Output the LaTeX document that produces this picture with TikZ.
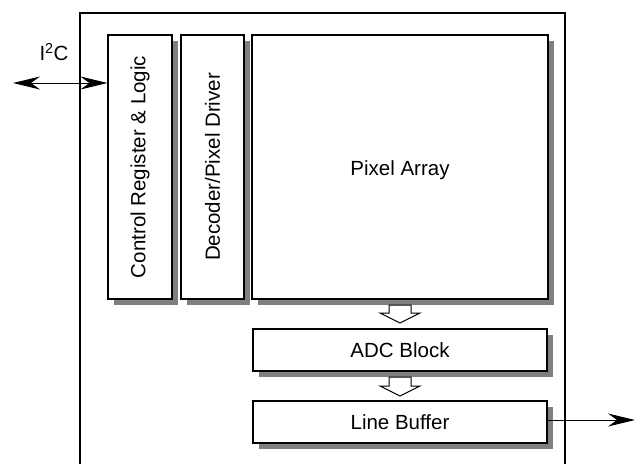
\documentclass[tikz,border=0pt]{standalone}
\usepackage{fontspec}
\setmainfont{Liberation Sans}
\usetikzlibrary{arrows.meta,calc}
\tikzset{
  lbl/.style={font=\fontsize{20.5}{24}\selectfont,inner sep=0pt},
  blk/.style={draw=black,line width=1.1pt,fill=white,inner sep=0pt,lbl},
  sig/.style={line width=1pt,-{Stealth[length=27pt,width=13pt,inset=9pt]}},
  hollow/.style={draw=black,line width=1pt,fill=white},
}
\begin{document}
\begin{tikzpicture}[x=1pt,y=-1pt]
\useasboundingbox (0,0) rectangle (642,464);
% outer chip outline (open at the bottom)
\draw[line width=2.6pt] (80,464) -- (80,13) -- (565,13) -- (565,464);
% shadows
\foreach \a/\b/\c/\d in {108/35/172/299, 181/35/244/299, 252/35/548/299, 253/329/547/371, 253/401/547/443}{
  \fill[black!50] (\a+6,\b+6) rectangle (\c+6,\d+6);
}
% blocks
\node[blk,minimum width=64pt,minimum height=264pt] (ctrl) at (140,167) {};
\node[lbl,rotate=90] (ctrlt) at (ctrl.center) {Control Register \& Logic};
\node[blk,minimum width=63pt,minimum height=264pt] (dec) at (212.5,167) {};
\node[lbl,rotate=90] (dect) at (dec.center) {Decoder/Pixel Driver};
\node[blk,minimum width=296pt,minimum height=264pt] (pix) at (400,167) {};
\node[lbl] (pixt) at (400,170) {Pixel Array};
\node[blk,minimum width=294pt,minimum height=42pt] (adc) at (400,350) {ADC Block};
\node[blk,minimum width=294pt,minimum height=42pt] (lb) at (400,422) {Line Buffer};
% hollow arrows
\draw[hollow] (389,305) -- (411,305) -- (411,313) -- (420,313) -- (400,323) -- (380,313) -- (389,313) -- cycle;
\draw[hollow] (389,377) -- (411,377) -- (411,386) -- (420,386) -- (400,396) -- (380,386) -- (389,386) -- cycle;
% I2C
\coordinate (i2cend) at (13,83);
\draw[sig,{Stealth[length=27pt,width=13pt,inset=9pt]}-{Stealth[length=27pt,width=13pt,inset=9pt]}] (i2cend) -- (ctrl.west |- i2cend);
\node[lbl] (i2c) at (54,52) {I\textsuperscript{2}C};
% output
\coordinate (outend) at (635,420);
\draw[sig] (lb.east |- outend) -- (outend);
\end{tikzpicture}
\end{document}
